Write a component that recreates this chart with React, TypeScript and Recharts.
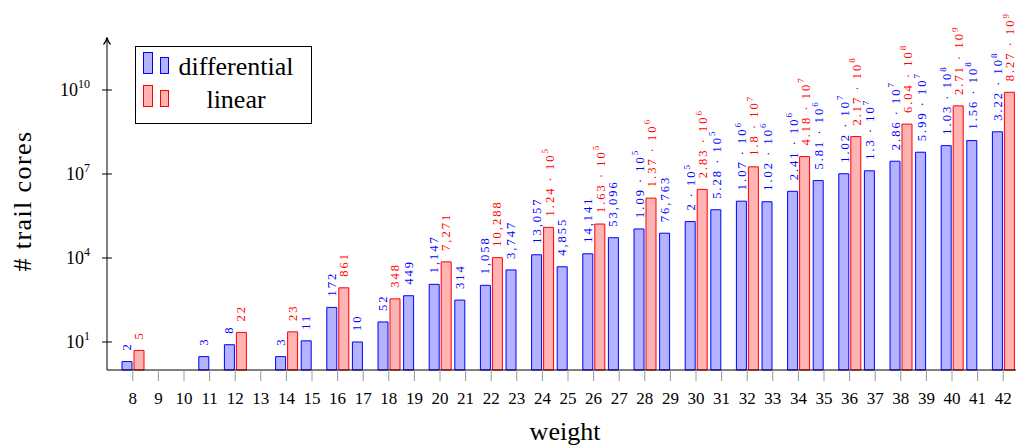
import React from 'react';
import { BarChart, Bar, XAxis, YAxis, LabelList, Legend } from 'recharts';

const weights: number[] = [8, 9, 10, 11, 12, 13, 14, 15, 16, 17, 18, 19, 20, 21, 22, 23, 24, 25, 26, 27, 28, 29, 30, 31, 32, 33, 34, 35, 36, 37, 38, 39, 40, 41, 42];

const differential: (number | null)[] = [
  2, null, null, 3, 8, null, 3, 11, 172, 10, 52, 449, 1147, 314, 1058, 3747, 13057, 4855, 14141, 53096,
  109000, 76763, 200000, 528000, 1070000, 1020000, 2410000, 5810000, 10200000, 13000000, 28600000,
  59900000, 103000000, 156000000, 322000000,
];

const linear: (number | null)[] = [
  5, null, null, null, 22, null, 23, null, 861, null, 348, null, 7271, null, 10288, null, 124000, null,
  163000, null, 1370000, null, 2830000, null, 18000000, null, 41800000, null, 217000000, null, 604000000,
  null, 2710000000, null, 8270000000,
];

const yTicks: number[] = [10, 1e4, 1e7, 1e10];
const yDomain: [number, number] = [1, 6.1e11];

const FONT = '"Liberation Serif", "Times New Roman", serif';

const series = [
  { key: 'differential', name: 'differential', fill: '#b3b3ff', stroke: '#0000ff' },
  { key: 'linear', name: 'linear', fill: '#ffb3b3', stroke: '#ff0000' },
];

const data = weights.map((w, i) => ({ w, differential: differential[i], linear: linear[i] }));

function fmt(v: number): { m: string; e: number | null } {
  if (v < 1e5) return { m: v.toLocaleString('en-US'), e: null };
  const e = Math.floor(Math.log10(v) + 1e-9);
  const m = Math.round((v / Math.pow(10, e)) * 100) / 100;
  return { m: String(m), e };
}

const makeLabel = (color: string) => (props: any) => {
  const { x, y, width, value } = props;
  if (value == null || x == null || y == null) return null;
  const f = fmt(Number(value));
  const cx = Number(x) + Number(width) / 2 + (f.e != null ? 1 : 0);
  const ty = Number(y) - 11;
  return (
    <text
      x={cx}
      y={ty}
      transform={`rotate(-90 ${cx} ${ty})`}
      fill={color}
      fontSize={12.5}
      letterSpacing={2}
      fontFamily={FONT}
      dominantBaseline="central"
      textAnchor="start"
    >
      {f.m}
      {f.e != null ? ' · 10' : ''}
      {f.e != null ? (
        <tspan dy={-4.5} fontSize={9}>
          {f.e}
        </tspan>
      ) : null}
    </text>
  );
};

const XTick = (props: any) => {
  const { x, payload } = props;
  return (
    <g>
      <line x1={x} x2={x} y1={370} y2={381} stroke="#999" strokeWidth={1} />
      <text x={x} y={404} textAnchor="middle" fontSize={17} fontFamily={FONT} fill="#000">
        {payload.value}
      </text>
    </g>
  );
};

const YTick = (props: any) => {
  const { y, payload } = props;
  const e = Math.round(Math.log10(payload.value));
  return (
    <g>
      <line x1={102} x2={112} y1={y} y2={y} stroke="#000" strokeWidth={1} />
      <text x={90} y={y + 6} textAnchor="end" fontSize={18} fontFamily={FONT} fill="#000">
        10
        <tspan dy={-8} fontSize={12}>
          {e}
        </tspan>
      </text>
    </g>
  );
};

const YLabel = () => (
  <g>
    <text
      x={31}
      y={201}
      transform="rotate(-90 31 201)"
      textAnchor="middle"
      fontSize={26}
      letterSpacing={1.4}
      fontFamily={FONT}
      fill="#000"
    >
      # trail cores
    </text>
    <line x1={107} x2={107} y1={38} y2={41} stroke="#000" strokeWidth={1} />
    <path d="M103.5 44.5 Q106 42 107 37.5 Q108 42 110.5 44.5" fill="none" stroke="#000" strokeWidth={1.2} />
  </g>
);

const XLabel = () => (
  <text x={565} y={440} textAnchor="middle" fontSize={26} fontFamily={FONT} fill="#000">
    weight
  </text>
);

const LegendBox = () => (
  <svg width={178} height={79} style={{ display: 'block' }}>
    <rect x={0.5} y={0.5} width={176} height={77} fill="#fff" stroke="#000" strokeWidth={1} />
    {series.map((s, i) => {
      const oy = i * 33;
      return (
        <g key={s.key}>
          <rect x={8.5} y={6.5 + oy} width={9} height={21} fill={s.fill} stroke={s.stroke} strokeWidth={1} />
          <rect x={25.5} y={11.5 + oy} width={8} height={16} fill={s.fill} stroke={s.stroke} strokeWidth={1} />
          <text x={101} y={29 + oy} textAnchor="middle" fontSize={26} fontFamily={FONT} fill="#000">
            {s.name}
          </text>
        </g>
      );
    })}
  </svg>
);

export default function App() {
  return (
    <div style={{ position: 'absolute', left: 0, top: 0, width: 1016, height: 448, overflow: 'hidden' }}>
      <BarChart
        width={1016}
        height={448}
        data={data}
        margin={{ top: 40, right: 0, bottom: 0, left: 0 }}
        barGap={2}
      >
        <XAxis
          dataKey="w"
          type="category"
          interval={0}
          height={78}
          padding={{ left: 13, right: 0 }}
          axisLine={{ stroke: '#000', strokeWidth: 1 }}
          tickLine={false}
          tick={<XTick />}
          label={<XLabel />}
        />
        <YAxis
          type="number"
          scale="log"
          domain={yDomain}
          ticks={yTicks}
          width={107}
          axisLine={{ stroke: '#000', strokeWidth: 1 }}
          tickLine={false}
          tick={<YTick />}
          label={<YLabel />}
        />
        <Legend
          layout="vertical"
          align="center"
          verticalAlign="middle"
          wrapperStyle={{ left: 135, top: 46, right: 'auto', bottom: 'auto', width: 178, height: 79 }}
          content={<LegendBox />}
        />
        {series.map((s) => (
          <Bar
            key={s.key}
            dataKey={s.key}
            name={s.name}
            fill={s.fill}
            stroke={s.stroke}
            strokeWidth={1}
            barSize={10}
            isAnimationActive={false}
          >
            <LabelList dataKey={s.key} content={makeLabel(s.stroke)} />
          </Bar>
        ))}
      </BarChart>
    </div>
  );
}
